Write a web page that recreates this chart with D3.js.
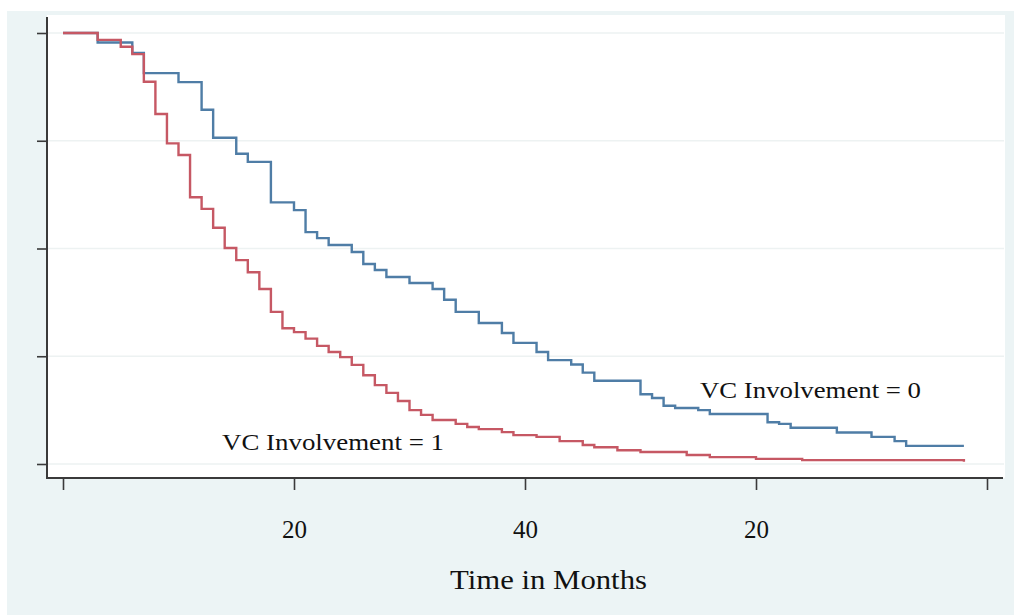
<!DOCTYPE html>
<html>
<head>
<meta charset="utf-8">
<script src="https://cdn.jsdelivr.net/npm/d3@7"></script>
<style>
  html, body { margin: 0; padding: 0; background: #ffffff; }
  svg { display: block; }
  text { font-family: "Liberation Serif", "Times New Roman", serif; fill: #111; }
</style>
</head>
<body>
<svg id="chart" width="1014" height="615"></svg>
<script>
// ── Data (Kaplan-Meier steps) ──
const vc0Times = [3, 6, 7, 10, 12, 13, 15, 16, 18, 20, 21, 22, 23, 25, 26, 27, 28, 30, 32, 33, 34, 36, 38, 39, 41, 42, 44, 45, 46, 50, 51, 52, 53, 55, 56, 61, 62, 63, 67, 70, 72, 73];
const vc0Surv  = [0.978, 0.954, 0.907, 0.886, 0.822, 0.757, 0.720, 0.701, 0.607, 0.589, 0.538, 0.524, 0.508, 0.492, 0.464, 0.450, 0.434, 0.420, 0.406, 0.381, 0.353, 0.327, 0.304, 0.281, 0.260, 0.241, 0.231, 0.212, 0.193, 0.162, 0.153, 0.135, 0.130, 0.125, 0.116, 0.097, 0.093, 0.084, 0.073, 0.063, 0.053, 0.042];
const vc1Times = [3, 5, 6, 7, 8, 9, 10, 11, 12, 13, 14, 15, 16, 17, 18, 19, 20, 21, 22, 23, 24, 25, 26, 27, 28, 29, 30, 31, 32, 34, 35, 36, 38, 39, 41, 43, 45, 46, 48, 50, 54, 56, 60, 64, 78];
const vc1Surv  = [0.984, 0.968, 0.951, 0.887, 0.812, 0.744, 0.717, 0.619, 0.592, 0.548, 0.501, 0.473, 0.445, 0.406, 0.353, 0.315, 0.306, 0.291, 0.274, 0.260, 0.248, 0.230, 0.206, 0.183, 0.165, 0.146, 0.125, 0.114, 0.102, 0.093, 0.086, 0.081, 0.074, 0.067, 0.063, 0.053, 0.044, 0.039, 0.032, 0.028, 0.021, 0.016, 0.012, 0.009, 0.005];
const lastTime = 78;

const xTickValues = [0, 20, 40, 60, 80];
const xTickLabels = ['', '20', '40', '20', ''];
const yTickValues = [0, 0.25, 0.5, 0.75, 1];

const seriesLabels = ['VC Involvement = 0', 'VC Involvement = 1'];
const axisTitle = 'Time in Months';

// ── Layout ──
const svg = d3.select('#chart');
const bg = '#ecf4f5';
const blue = '#4f7da6', red = '#c65864';

svg.append('rect').attr('x', 0).attr('y', 0).attr('width', 1014).attr('height', 615).attr('fill', '#ffffff');
svg.append('rect').attr('x', 7).attr('y', 11).attr('width', 1007).attr('height', 604).attr('fill', bg);
svg.append('rect').attr('x', 47).attr('y', 15).attr('width', 958).attr('height', 463).attr('fill', '#ffffff');

const x = d3.scaleLinear().domain([0, 80]).range([63, 987]);
const y = d3.scaleLinear().domain([0, 1]).range([464, 33]);

// Grid lines
svg.append('g').selectAll('line').data(yTickValues).join('line')
  .attr('x1', 48).attr('x2', 1004)
  .attr('y1', d => y(d)).attr('y2', d => y(d))
  .attr('stroke', '#edf2f2').attr('stroke-width', 1.5);

// Axes
const yAxis = svg.append('g').attr('transform', 'translate(47,0)')
  .call(d3.axisLeft(y).tickValues(yTickValues).tickFormat('').tickSize(10).tickSizeOuter(0));
yAxis.select('.domain').attr('d', 'M0,17V478').attr('stroke', '#3a3a3a').attr('stroke-width', 2);
yAxis.selectAll('.tick line').attr('stroke', '#3a3a3a').attr('stroke-width', 1.6);

const xAxis = svg.append('g').attr('transform', 'translate(0,478)')
  .call(d3.axisBottom(x).tickValues(xTickValues).tickFormat((d, i) => xTickLabels[i]).tickSize(12).tickSizeOuter(0));
xAxis.select('.domain').attr('d', 'M46,0H1003').attr('stroke', '#3a3a3a').attr('stroke-width', 2);
xAxis.selectAll('.tick line').attr('stroke', '#3a3a3a').attr('stroke-width', 1.6);
xAxis.selectAll('.tick text')
  .attr('y', 60).attr('dy', null)
  .attr('font-family', '"Liberation Serif", serif').attr('font-size', 25).attr('fill', '#111');

// Curves
function steps(times, surv) {
  const pts = [[0, 1]];
  times.forEach((t, i) => pts.push([t, surv[i]]));
  pts.push([lastTime, surv[surv.length - 1]]);
  return pts;
}
const line = d3.line().x(d => x(d[0])).y(d => y(d[1])).curve(d3.curveStepAfter);

svg.append('path').datum(steps(vc0Times, vc0Surv))
  .attr('d', line).attr('fill', 'none').attr('stroke', blue).attr('stroke-width', 2.4);
svg.append('path').datum(steps(vc1Times, vc1Surv))
  .attr('d', line).attr('fill', 'none').attr('stroke', red).attr('stroke-width', 2.4);

// Labels
svg.append('text').attr('x', 700).attr('y', 398).attr('font-size', 24)
  .attr('textLength', 221).attr('lengthAdjust', 'spacingAndGlyphs').text(seriesLabels[0]);
svg.append('text').attr('x', 222).attr('y', 450).attr('font-size', 24)
  .attr('textLength', 222).attr('lengthAdjust', 'spacingAndGlyphs').text(seriesLabels[1]);

svg.append('text').attr('x', 450).attr('y', 589).attr('font-size', 27)
  .attr('textLength', 197).attr('lengthAdjust', 'spacingAndGlyphs').text(axisTitle);
</script>
</body>
</html>
